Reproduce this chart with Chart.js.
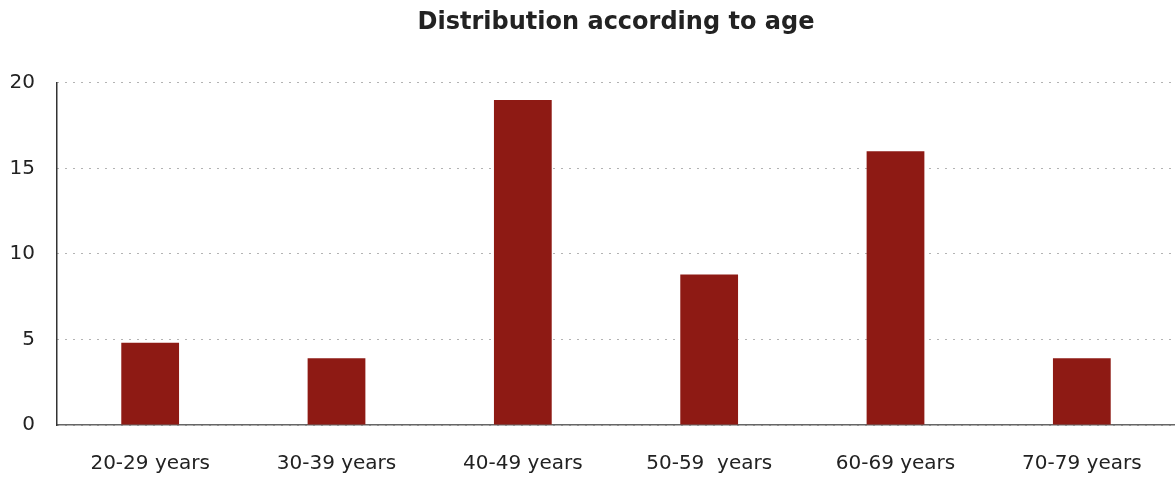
<!DOCTYPE html>
<html>
<head>
<meta charset="utf-8">
<script src="https://cdn.jsdelivr.net/npm/chart.js@4"></script>
<style>
  html, body { margin: 0; padding: 0; background: #fff; }
  #wrap { width: 1175px; height: 477px; }
</style>
</head>
<body>
<div id="wrap"><canvas id="mycanvas" width="1175" height="477"></canvas></div>
<script>
var ageGroups = ['20-29 years', '30-39 years', '40-49 years', '50-59  years', '60-69 years', '70-79 years'];
var counts = [4.8, 3.9, 19, 8.8, 16, 3.9];
var yTicks = [0, 5, 10, 15, 20];

var chartdata = {
    labels: ageGroups,
    datasets: [
        {
            label: 'Distribution according to age',
            backgroundColor: '#8e1a14',
            data: counts,
            barPercentage: 0.31,
            categoryPercentage: 1
        }
    ]
};

const config = {
    type: 'bar',
    data: chartdata,
    options: {
        responsive: false,
        animation: false,
        layout: { padding: 0 },
        plugins: {
            legend: { display: false },
            tooltip: { enabled: false },
            title: {
                display: true,
                fullSize: false, // centre over the plot area, not the canvas
                text: 'Distribution according to age',
                color: '#222',
                font: { family: 'DejaVu Sans', size: 24, weight: 'bold' },
                padding: { top: 8, bottom: 46 }
            }
        },
        scales: {
            x: {
                afterFit: function(scale) { scale.height = 52; },
                grid: { display: false, drawTicks: false },
                border: { display: true, color: '#666', width: 1.5 },
                ticks: {
                    color: '#222',
                    padding: 27,
                    maxRotation: 0,
                    font: { family: 'DejaVu Sans', size: 20 }
                }
            },
            y: {
                min: 0,
                max: 20,
                afterBuildTicks: function(axis) {
                    axis.ticks = yTicks.map(function(v) { return { value: v }; });
                },
                afterFit: function(scale) { scale.width = 57; },
                grid: { color: '#666', lineWidth: 1, drawTicks: false, tickLength: 0 },
                border: { display: true, color: '#333', width: 1.5, dash: [1, 7] },
                ticks: {
                    color: '#222',
                    padding: 22,
                    font: { family: 'DejaVu Sans', size: 20 }
                }
            }
        }
    }
};

const myChart = new Chart(document.getElementById('mycanvas'), config);
</script>
</body>
</html>
